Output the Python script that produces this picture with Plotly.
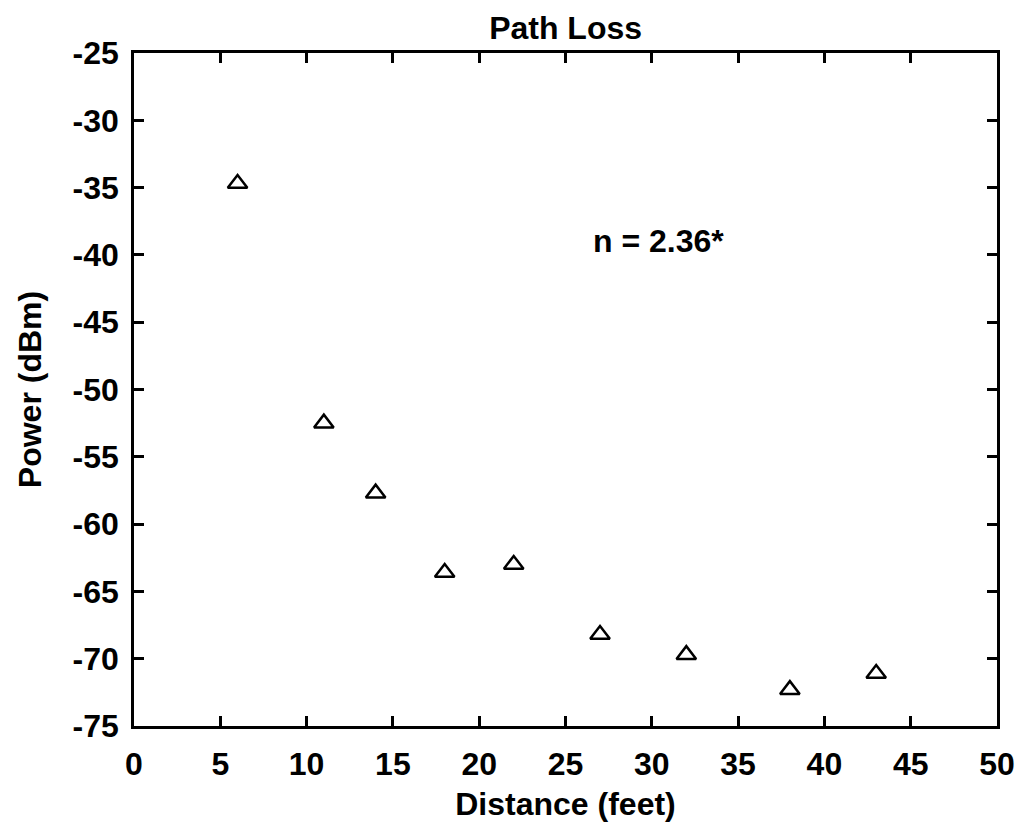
import plotly.graph_objects as go

distance_ft = [6, 11, 14, 18, 22, 27, 32, 38, 43]
power_dbm = [-34.7, -52.5, -57.7, -63.6, -63.0, -68.2, -69.7, -72.3, -71.1]

x_ticks = [0, 5, 10, 15, 20, 25, 30, 35, 40, 45, 50]
y_ticks = [-25, -30, -35, -40, -45, -50, -55, -60, -65, -70, -75]

FONT = "Liberation Sans, Arial, sans-serif"
FS = 32

fig = go.Figure()
fig.add_trace(go.Scatter(
    x=distance_ft, y=power_dbm, mode="markers",
    marker=dict(symbol="triangle-up-open", size=17, color="black",
                line=dict(color="black", width=2.5)),
    showlegend=False, cliponaxis=False,
))

axis_common = dict(
    showline=True, linecolor="black", linewidth=2.5, mirror="allticks",
    ticks="inside", ticklen=10, tickwidth=2.5, tickcolor="black",
    showgrid=False, zeroline=False, automargin=False,
    tickfont=dict(family=FONT, size=FS, color="black"),
)

fig.update_layout(
    width=1020, height=832,
    margin=dict(l=134, r=23, t=53, b=106),
    paper_bgcolor="white", plot_bgcolor="white",
    font=dict(family=FONT, size=FS, color="black"),
    title=dict(text="<b>Path Loss</b>", x=0.5545, xanchor="center",
               y=0.967, yanchor="middle",
               font=dict(family=FONT, size=FS, color="black")),
    xaxis=dict(range=[0, 50], tickvals=x_ticks, ticktext=[f"<b>{v}</b>" for v in x_ticks],
               title=dict(text="<b>Distance (feet)</b>", standoff=12,
                          font=dict(family=FONT, size=FS, color="black")),
               ticklabelstandoff=8,
               **axis_common),
    yaxis=dict(range=[-75, -25], tickvals=y_ticks, ticktext=[f"<b>{v}</b>" for v in y_ticks],
               title=dict(text="<b>Power (dBm)</b>", standoff=22,
                          font=dict(family=FONT, size=FS, color="black")),
               ticklabelstandoff=6,
               **axis_common),
    annotations=[dict(x=30.4, y=-39.0, xref="x", yref="y", text="<b>n = 2.36*</b>",
                      showarrow=False, font=dict(family=FONT, size=FS, color="black"))],
)

fig.write_html("out.html")
